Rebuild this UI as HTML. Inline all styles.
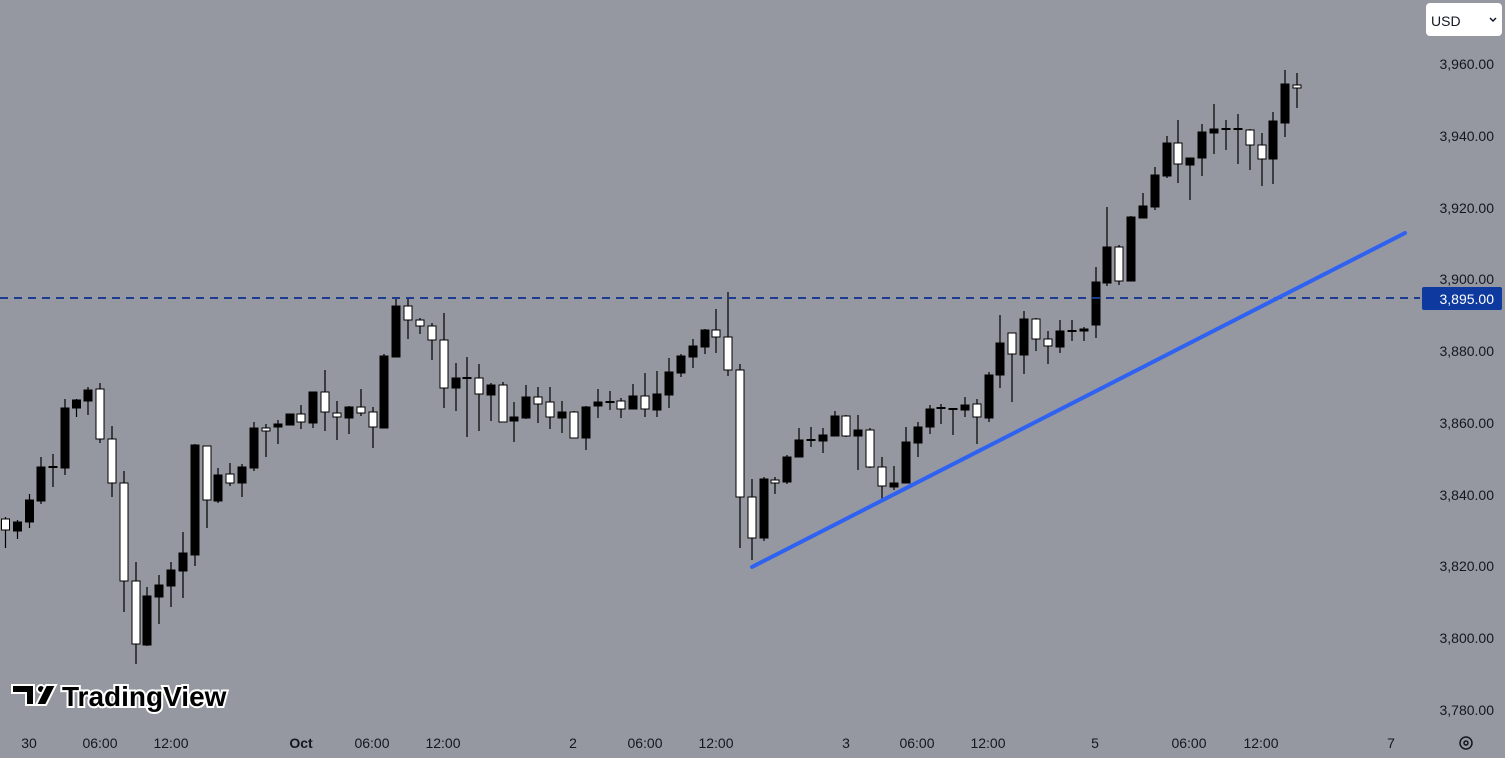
<!DOCTYPE html>
<html><head><meta charset="utf-8"><style>
html,body{margin:0;padding:0;background:#9598a1;width:1505px;height:758px;overflow:hidden}
svg{position:absolute;left:0;top:0}
</style></head><body>
<svg id="s" width="1505" height="758" xmlns="http://www.w3.org/2000/svg" font-family="Liberation Sans, sans-serif">
<rect width="1505" height="758" fill="#9598a1"/>
<g id="c"></g>
<line x1="0" y1="298" x2="1420" y2="298" stroke="#1c3a8f" stroke-width="2" stroke-dasharray="8,6"/>
<line x1="752" y1="567" x2="1405" y2="233" stroke="#2f62f0" stroke-width="4" stroke-linecap="round"/>
<g font-size="14" fill="#131722" text-anchor="end">
<text x="1494" y="69">3,960.00</text>
<text x="1494" y="141">3,940.00</text>
<text x="1494" y="213">3,920.00</text>
<text x="1494" y="284">3,900.00</text>
<text x="1494" y="356">3,880.00</text>
<text x="1494" y="428">3,860.00</text>
<text x="1494" y="500">3,840.00</text>
<text x="1494" y="571">3,820.00</text>
<text x="1494" y="643">3,800.00</text>
<text x="1494" y="715">3,780.00</text>
</g>
<rect x="1422" y="287" width="80" height="23" rx="2" fill="#0e3aa0"/>
<text x="1494" y="304" font-size="14" fill="#fff" text-anchor="end">3,895.00</text>
<rect x="1426" y="3" width="76" height="33" rx="4" fill="#fff"/>
<text x="1431" y="26" font-size="14" fill="#131722">USD</text>
<path d="M1490 18 l3 3 l3 -3" stroke="#131722" stroke-width="1.5" fill="none"/>
<g font-size="14" fill="#131722" text-anchor="middle">
<text x="29" y="748">30</text>
<text x="100" y="748">06:00</text>
<text x="171" y="748">12:00</text>
<text x="301" y="748" font-weight="bold">Oct</text>
<text x="372" y="748">06:00</text>
<text x="443" y="748">12:00</text>
<text x="573" y="748">2</text>
<text x="645" y="748">06:00</text>
<text x="716" y="748">12:00</text>
<text x="846" y="748">3</text>
<text x="917" y="748">06:00</text>
<text x="988" y="748">12:00</text>
<text x="1095" y="748">5</text>
<text x="1189" y="748">06:00</text>
<text x="1261" y="748">12:00</text>
<text x="1391" y="748">7</text>
</g>
<circle cx="1466" cy="743" r="6" fill="none" stroke="#131722" stroke-width="1.5"/>
<circle cx="1466" cy="743" r="2" fill="none" stroke="#131722" stroke-width="1.5"/>
<g>
<path d="M12 685 h22 v20 h-8 v-12 h-14z" fill="#000" stroke="#fff" stroke-width="2"/>
<circle cx="41" cy="689" r="4" fill="#000" stroke="#fff" stroke-width="2"/>
<path d="M46 685 h10 l-10 20 h-10z" fill="#000" stroke="#fff" stroke-width="2"/>
<text x="62" y="706" font-size="28" font-weight="bold" fill="#000" stroke="#fff" stroke-width="4" paint-order="stroke" letter-spacing="0">TradingView</text>
</g>
</svg>
<script>
var d=[
[5.5,517,548,519,530,0],[17.5,520,539,522,531,1],[29.5,494,528,500,522,1],[41,457,504,467,501,1],[53,454,487,466.5,467.5,1],
[65,399,475,408,468,1],[76.5,399,417,400,408,1],[88,387,415,390,401,1],[100,383,443,389,439,0],[112,426,497,439,483,0],
[124,471,612,483,581,0],[136,562,664,581,644,0],[147,587,646,596,645,1],[159,575,624,585,597,1],[171,562,607,570,586,1],
[183,532,598,553,571,1],[195,444,566,445,555,1],[207,446,528,446,500,0],[218,468,503,475,501,1],[230,463,486,474,483,0],
[242,464,497,467,483,1],[254,422,471,428,468,1],[266,424,457,428,431,0],[278,420,444,424,427,1],[290,414,425,414,425,1],
[301,405,429,414,422,0],[313,392,428,392,423,1],[325,370,431,392,412,0],[337,401,440,413,417,0],[349,406,434,407,418,1],
[361,389,416,407,413,0],[373,407,448,412,427,0],[384,354,428,356,428,1],[396,297,357,306,357,1],[408,298,339,306,320,0],
[420,318,334,320,326,0],[432,323,360,326,340,0],[444,313,408,340,388,0],[456,363,411,378,388,1],[467,357,437,377.5,378.5,1],
[479,364,431,378,394,0],[491,383,421,385,395,1],[503,382,422,385,422,0],[514,402,442,417,421,1],[526,385,419,397,418,1],
[538,387,423,397,404,0],[550,387,429,402,417,0],[562,401,433,412,418,1],[574,411,438,412,438,0],[586,406,450,407,438,1],
[598,389,418,402,406,1],[610,391,410,401.5,402.5,1],[621,398,418,401,409,0],[633,384,409,396,409,1],[645,373,417,396,409,0],
[657,371,417,394,410,1],[669,358,408,372,395,1],[681,354,377,356,373,1],[693,339,368,346,357,1],[705,329,354,330,347,1],
[716,309,353,330,337,0],[728,292,376,337,370,0],[740,364,548,370,497,0],[752,479,560,497,538,0],[764,477,541,479,538,1],
[775,477,494,480,483,0],[787,455,484,457,482,1],[799,428,457,440,457,1],[811,427,447,439.5,440.5,1],[823,428,453,435,441,1],
[835,411,436,416,436,1],[846,415,437,416,436,0],[858,415,470,430,436,1],[870,428,468,430,467,0],[882,457,502,467,486,0],
[894,466,490,483,487,1],[906,427,483,442,483,1],[918,422,457,427,443,1],[930,405,434,409,427,1],[941,404,424,407.5,408.5,1],
[953,408,435,408.5,409.5,1],[965,397,417,405,410,1],[977,399,444,404,417,0],[989,372,422,375,418,1],[1000,315,388,343,375,1],
[1012,333,402,333,354,0],[1024,311,374,319,355,1],[1036,318,351,319,339,0],[1048,331,364,339,346,0],[1060,320,353,331,347,1],
[1072,320,341,330.5,331.5,1],[1084,327,341,329,331,1],[1096,267,338,282,325,1],[1107,207,286,247,283,1],[1119,245,285,247,281,0],
[1131,216,281,217,281,1],[1143,193,218,206,218,1],[1155,167,210,175,207,1],[1167,136,178,143,176,1],[1178,120,183,143,164,0],
[1190,158,200,158,165,1],[1202,124,176,132,158,1],[1214,104,154,129,133,1],[1226,120,150,128.5,129.5,1],[1238,114,164,128.5,129.5,1],
[1250,129,170,130,145,0],[1262,133,186,145,159,0],[1273,112,184,121,159,1],[1285,70,137,84,123,1],[1297,73,108,85,88,0]];
var h='';
d.forEach(function(c){var x=c[0];
h+='<line x1="'+x+'" y1="'+c[1]+'" x2="'+x+'" y2="'+c[2]+'" stroke="#000" stroke-width="1.2"/>';
var ht=Math.max(c[4]-c[3],1);
h+='<rect x="'+(x-4)+'" y="'+c[3]+'" width="8" height="'+ht+'" fill="'+(c[5]?'#000':'#fff')+'" stroke="#000" stroke-width="1"/>';});
document.getElementById('c').innerHTML=h;
</script>
</body></html>
